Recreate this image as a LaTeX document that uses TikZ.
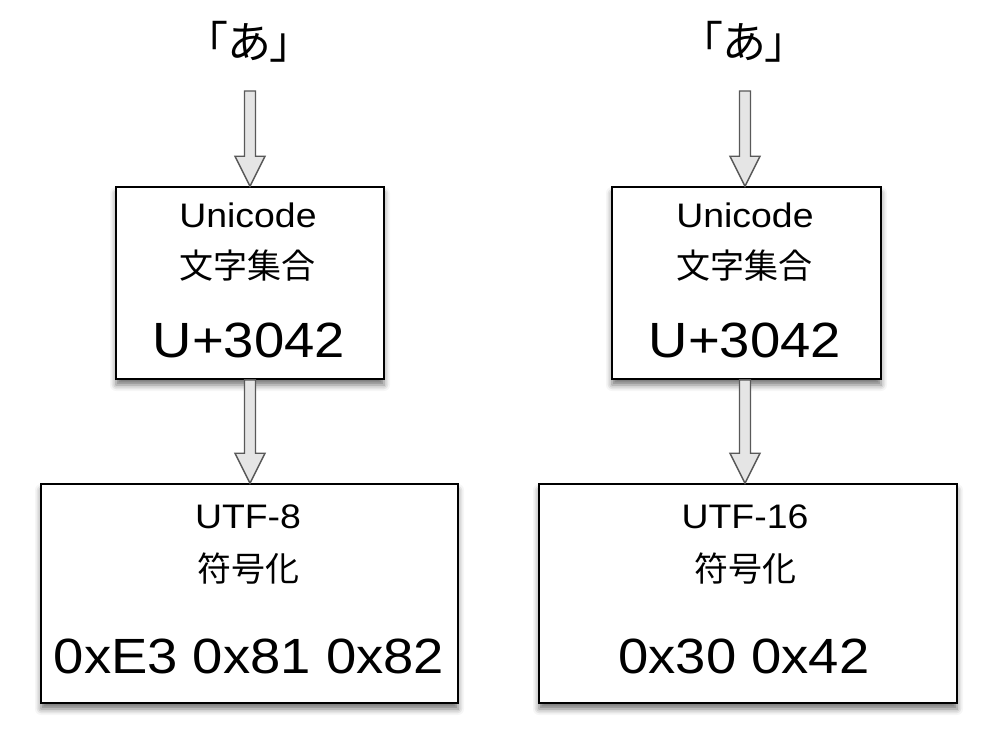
\documentclass[tikz,border=0pt]{standalone}
\usepackage{fontspec}
\setmainfont{Liberation Sans}[FakeStretch=1.1]
\newfontfamily\jp{Noto Sans CJK JP}
\newfontfamily\jpp{Noto Sans CJK JP}[RawFeature=+palt]
\usetikzlibrary{calc,shadows.blur}
\tikzset{
  box/.style={draw=black, line width=1.6pt, fill=white, inner sep=0pt,
    blur shadow={shadow xshift=0pt, shadow yshift=-6pt, shadow blur radius=6pt, shadow opacity=55}},
  fatarr/.style={draw=black!65, fill=black!10, line width=1.4pt, line join=miter},
  midtxt/.style={font=\fontsize{34}{34}\selectfont, anchor=base, inner sep=0pt},
  cjktxt/.style={font=\jp\fontsize{34}{34}\selectfont, anchor=center, inner sep=0pt},
  bigtxt/.style={font=\fontsize{49.5}{50}\selectfont, anchor=base, inner sep=0pt},
  toptxt/.style={font=\jpp\fontsize{44}{44}\selectfont, anchor=center, inner sep=0pt}
}
\newcommand\fatarrow[2]{%
  \path[fatarr] let \p1=(#1), \p2=(#2) in
    (\x1-5.5pt,\y1) -- (\x1+5.5pt,\y1) -- (\x1+5.5pt,\y2+30pt) -- (\x1+15pt,\y2+30pt)
    -- (\x1,\y2) -- (\x1-15pt,\y2+30pt) -- (\x1-5.5pt,\y2+30pt) -- cycle;}
\begin{document}
\begin{tikzpicture}[x=1pt,y=-1pt]
\useasboundingbox (0,0) rectangle (994,752);
% left column
\node[toptxt] (ca) at (249,42) {「あ」};
\coordinate (sa) at (250,91);
\node[box, minimum width=268, minimum height=192] (ua) at (250,283) {};
\node[box, minimum width=417, minimum height=219] (ea) at (249.5,593.5) {};
\node[midtxt] (ua1) at (248,227) {Unicode};
\node[cjktxt] (ua2) at (247,266) {文字集合};
\node[bigtxt] (ua3) at (249,357) {U+3042};
\node[midtxt] (ea1) at (248,528) {UTF-8};
\node[cjktxt] (ea2) at (248,569) {符号化};
\node[bigtxt] (ea3) at (249,673) {0xE3 0x81 0x82};
\fatarrow{sa}{ua.north}
\fatarrow{ua.south}{ea.north}
% right column
\node[toptxt] (cb) at (744,42) {「あ」};
\coordinate (sb) at (745,91);
\node[box, minimum width=269, minimum height=192] (ub) at (746.5,283) {};
\node[box, minimum width=418, minimum height=219] (eb) at (748,593.5) {};
\node[midtxt] (ub1) at (745,227) {Unicode};
\node[cjktxt] (ub2) at (744,266) {文字集合};
\node[bigtxt] (ub3) at (745,357) {U+3042};
\node[midtxt] (eb1) at (745,528) {UTF-16};
\node[cjktxt] (eb2) at (745,569) {符号化};
\node[bigtxt] (eb3) at (744,673) {0x30 0x42};
\fatarrow{sb}{ub.north -| sb}
\fatarrow{ub.south -| sb}{eb.north -| sb}
\end{tikzpicture}
\end{document}
